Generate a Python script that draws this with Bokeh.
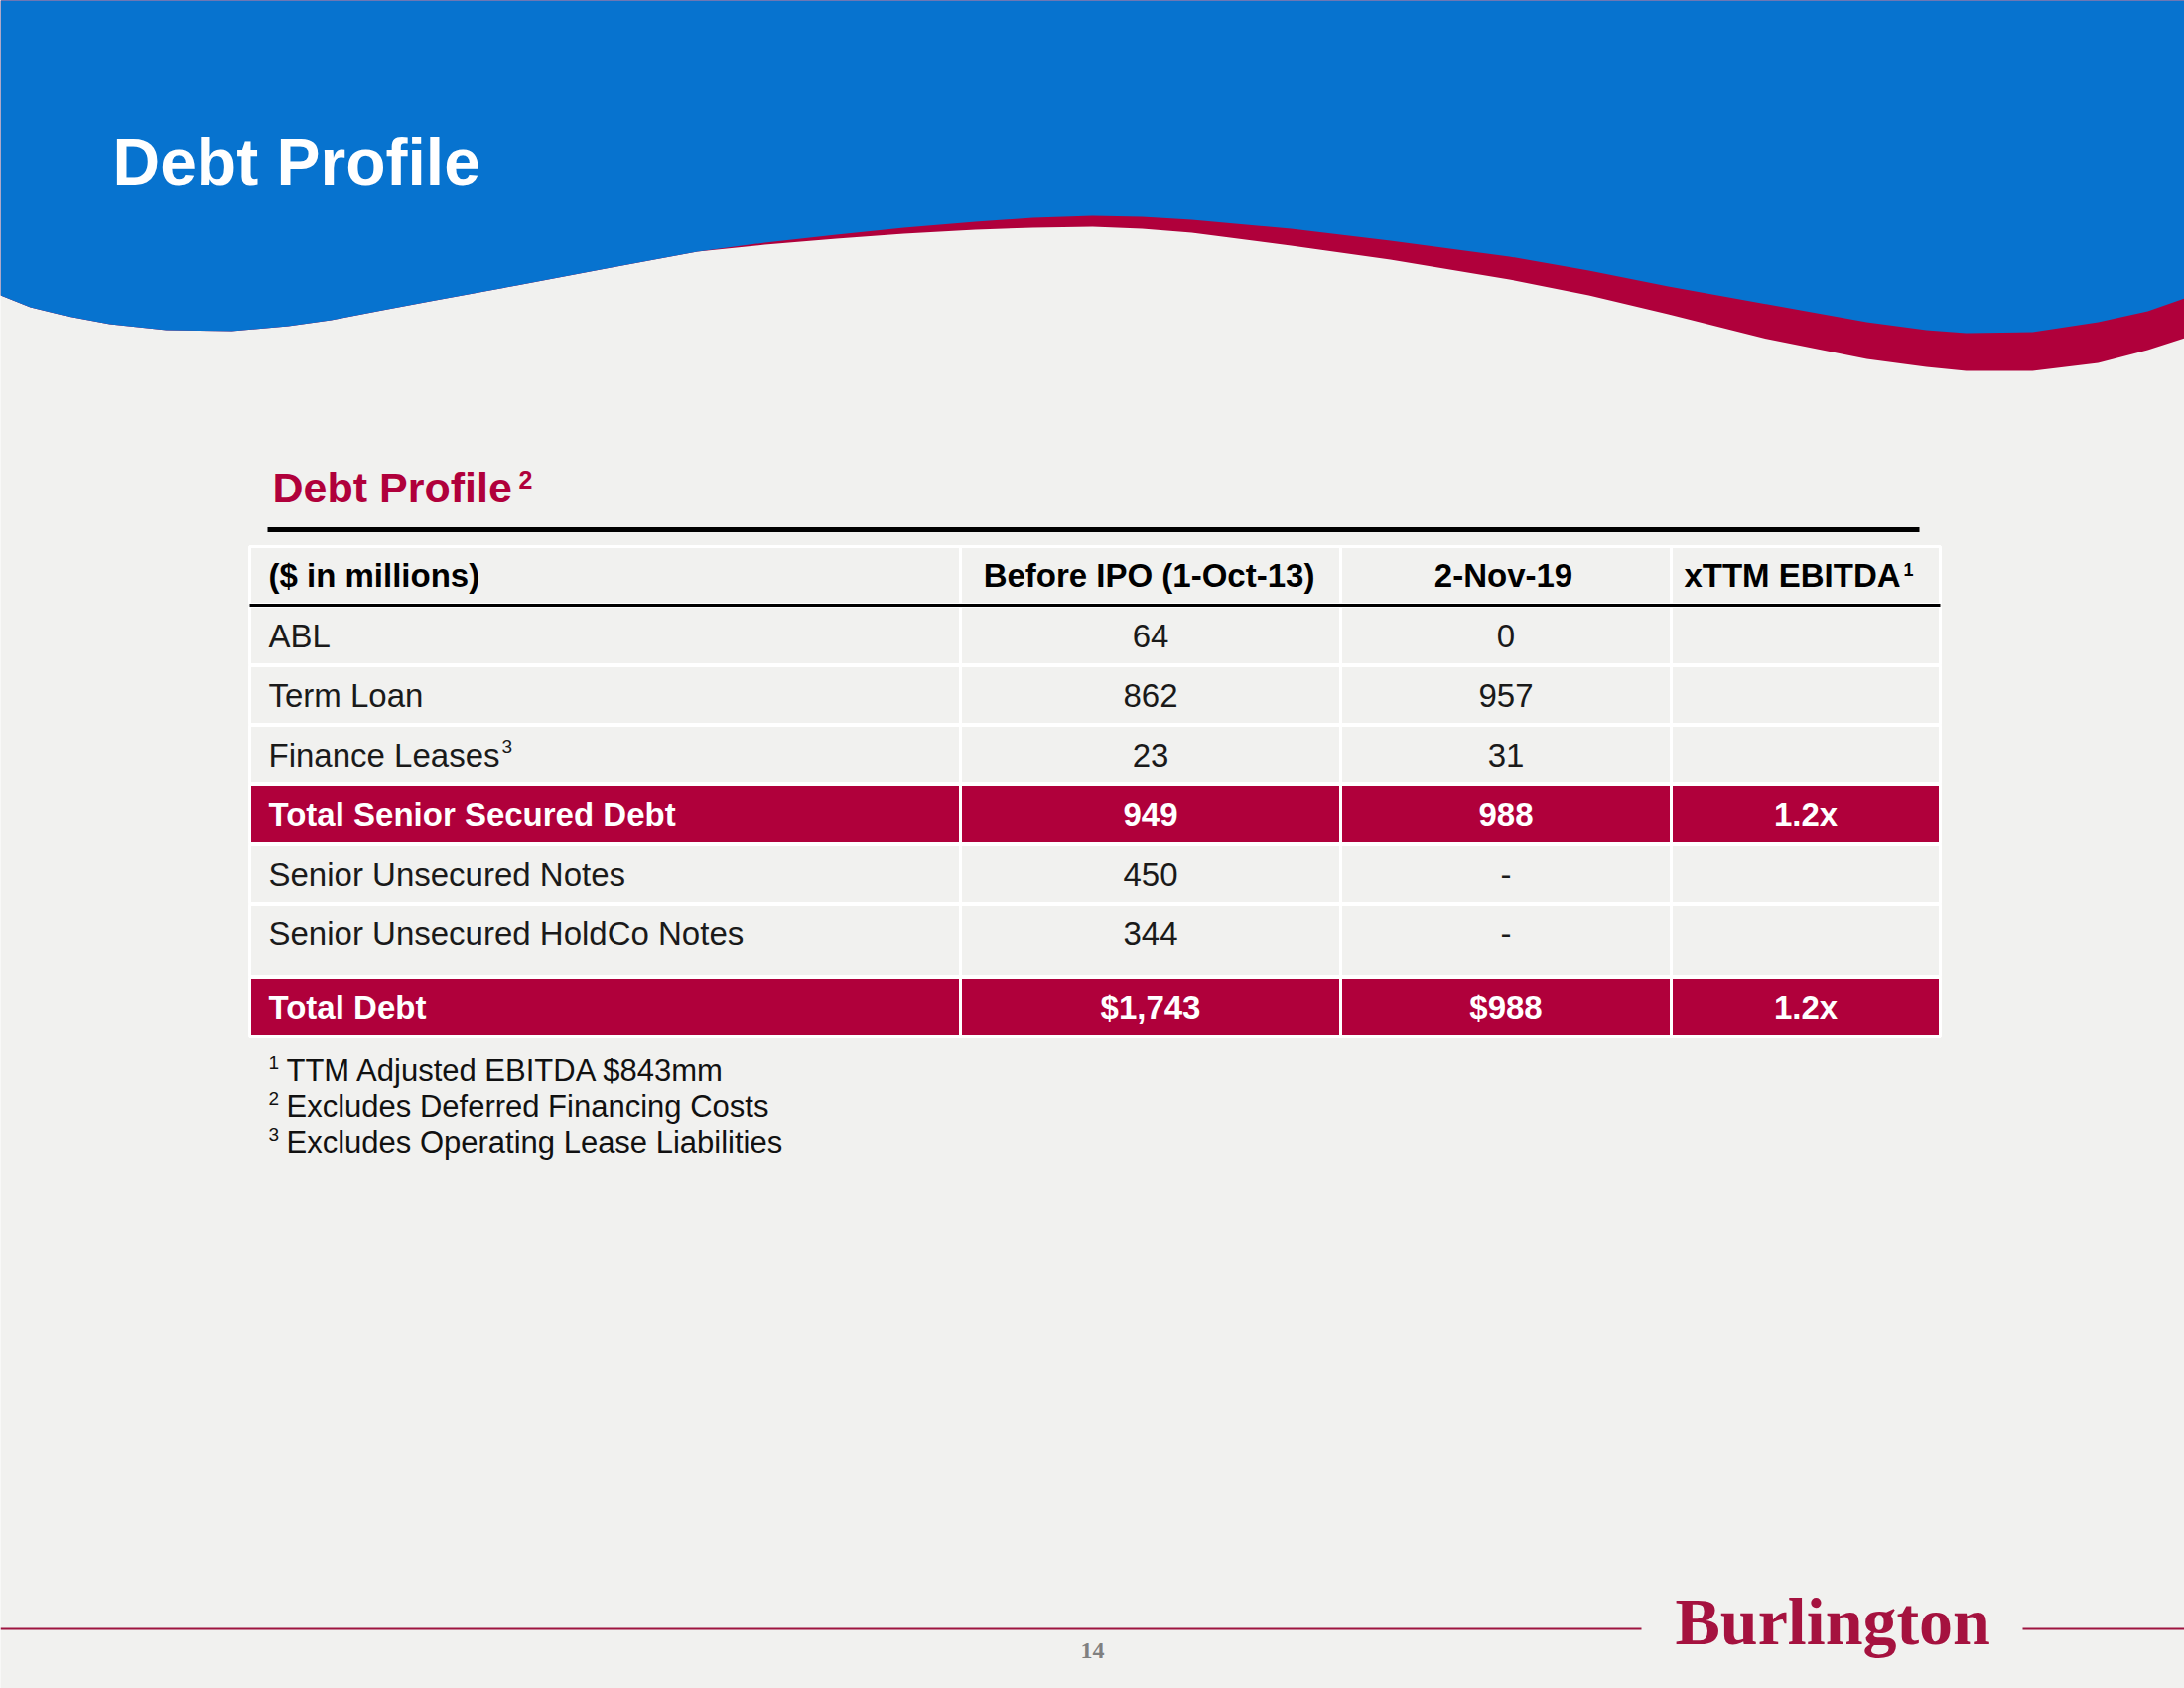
from bokeh.plotting import figure
from bokeh.models import ColumnDataSource, Range1d
from bokeh.core.properties import value
from bokeh.embed import file_html
from bokeh.resources import INLINE

# ---------------- data ----------------
TITLE = "Debt Profile"
SUBTITLE = "Debt Profile"
SUBTITLE_MARK = "2"
COLUMN_HEADERS = ["($ in millions)", "Before IPO (1-Oct-13)", "2-Nov-19", "xTTM EBITDA"]
HEADER_MARK = "1"
ROW_LABELS = ["ABL", "Term Loan", "Finance Leases", "Total Senior Secured Debt",
              "Senior Unsecured Notes", "Senior Unsecured HoldCo Notes", "Total Debt"]
ROW_MARKS = ["", "", "3", "", "", "", ""]
BEFORE_IPO = ["64", "862", "23", "949", "450", "344", "$1,743"]
NOV_2019 = ["0", "957", "31", "988", "-", "-", "$988"]
XTTM_EBITDA = ["", "", "", "1.2x", "", "", "1.2x"]
ROW_IS_TOTAL = [False, False, False, True, False, False, True]
FOOTNOTE_MARKS = ["1", "2", "3"]
FOOTNOTES = ["TTM Adjusted EBITDA $843mm", "Excludes Deferred Financing Costs",
             "Excludes Operating Lease Liabilities"]
PAGE_NUMBER = "14"
LOGO_TEXT = "Burlington"

# ---------------- layout / decoration ----------------
COL_EDGES = [251, 967, 1350, 1683, 1954]
HEADER_TOP, HEADER_BOTTOM = 550, 608
ROW_TOPS = [610, 670, 730, 790, 850, 910, 984]
ROW_BOTTOMS = [669, 729, 789, 849, 909, 983, 1043]

WAVE_X = [0, 30, 67, 110, 167, 233, 290, 333, 385, 433, 520, 610, 702, 770, 842, 910,
          982, 1040, 1100, 1150, 1200, 1300, 1400, 1520, 1600, 1680, 1780, 1880, 1940,
          1980, 2047, 2113, 2163, 2200]
BLUE_EDGE_Y = [297, 309, 318, 326, 332, 333, 328, 322, 312, 303, 287, 270, 253, 244,
               236, 229, 223, 219, 217, 218, 221, 230, 242, 258, 272, 288, 306, 324,
               332, 335, 334, 324, 313, 300]
RED_EDGE_Y = [297, 309, 318, 326, 332, 333, 328, 322, 312, 303, 287, 270, 253, 246,
              240, 235, 231, 229, 228, 230, 234, 247, 261, 281, 297, 316, 341, 361,
              369, 373, 373, 365, 352, 340]

BG = "#F1F1EF"
BLUE = "#0773CF"
CRIMSON = "#B0003B"
DARK = "#1A1A1A"
FONT = "Liberation Sans"
SERIF = "Liberation Serif"
BASELINE_SHIFT = 0.36  # empirical em offset of the svg text baseline

p = figure(width=2200, height=1700, x_range=Range1d(0, 2200), y_range=Range1d(1700, 0),
           output_backend="svg", toolbar_location=None, min_border=0)
p.xaxis.visible = False
p.yaxis.visible = False
p.grid.visible = False
p.outline_line_color = None
p.background_fill_color = BG
p.border_fill_color = BG

# header wave
p.patch([0] + WAVE_X + [2200], [-5] + RED_EDGE_Y + [-5], fill_color=CRIMSON, line_color=None)
p.patch([0] + WAVE_X + [2200], [-5] + BLUE_EDGE_Y + [-5], fill_color=BLUE, line_color=None)


def draw_text(xs, ys, texts, size, color, style="normal", align="left", font=FONT):
    ys = [y - BASELINE_SHIFT * size for y in ys]
    src = ColumnDataSource(dict(x=xs, y=ys, t=texts))
    p.text(x="x", y="y", text="t", source=src, text_font=value(font),
           text_font_size=value(f"{size}px"), text_color=color,
           text_font_style=value(style), text_align=value(align),
           text_baseline=value("alphabetic"))


# titles
draw_text([113], [186], [TITLE], 66, "white", "bold")
draw_text([274], [506], [SUBTITLE], 43, CRIMSON, "bold")
draw_text([522], [491], [SUBTITLE_MARK], 25, CRIMSON, "bold")
p.segment(x0=[269], y0=[533], x1=[1933], y1=[533], line_color="black", line_width=5)

# table cells
lefts, rights, tops, bottoms, fills = [], [], [], [], []
for c in range(4):
    lefts.append(COL_EDGES[c]); rights.append(COL_EDGES[c + 1])
    tops.append(HEADER_TOP); bottoms.append(HEADER_BOTTOM); fills.append(BG)
for r in range(len(ROW_LABELS)):
    for c in range(4):
        lefts.append(COL_EDGES[c]); rights.append(COL_EDGES[c + 1])
        tops.append(ROW_TOPS[r]); bottoms.append(ROW_BOTTOMS[r])
        fills.append(CRIMSON if ROW_IS_TOTAL[r] else BG)
p.quad(left=lefts, right=rights, top=tops, bottom=bottoms, fill_color=fills,
       line_color="white", line_width=3)
p.segment(x0=[COL_EDGES[0]], y0=[609], x1=[COL_EDGES[-1]], y1=[609],
          line_color="black", line_width=3)

# column headers
hb = HEADER_TOP + 29 + 12
draw_text([270], [hb], [COLUMN_HEADERS[0]], 33, "black", "bold")
draw_text([1157, 1514], [hb, hb], COLUMN_HEADERS[1:3], 33, "black", "bold", "center")
draw_text([1805], [hb], [COLUMN_HEADERS[3]], 33, "black", "bold", "center")
draw_text([1917], [hb - 12], [HEADER_MARK], 18, "black", "bold")

# rows
centers = [(COL_EDGES[1] + COL_EDGES[2]) / 2, (COL_EDGES[2] + COL_EDGES[3]) / 2,
           (COL_EDGES[3] + COL_EDGES[4]) / 2]
for total in (False, True):
    idx = [i for i in range(len(ROW_LABELS)) if ROW_IS_TOTAL[i] == total]
    color = "white" if total else DARK
    style = "bold" if total else "normal"
    base = [ROW_TOPS[i] + 30 + 12 for i in idx]
    draw_text([270] * len(idx), base, [ROW_LABELS[i] for i in idx], 33, color, style)
    for c, col in enumerate([BEFORE_IPO, NOV_2019, XTTM_EBITDA]):
        draw_text([centers[c]] * len(idx), base, [col[i] for i in idx], 33, color, style, "center")

mark_idx = [i for i in range(len(ROW_LABELS)) if ROW_MARKS[i]]
draw_text([505] * len(mark_idx), [ROW_TOPS[i] + 30 - 2 for i in mark_idx],
          [ROW_MARKS[i] for i in mark_idx], 19, DARK)

# footnotes
fb = [1089, 1125, 1161]
draw_text([270] * 3, [b - 12 for b in fb], FOOTNOTE_MARKS, 19, "#111111")
draw_text([288] * 3, fb, FOOTNOTES, 31, "#111111")

# footer
p.segment(x0=[0, 2037], y0=[1640, 1640], x1=[1653, 2200], y1=[1640, 1640],
          line_color="#9E1540", line_width=2)
draw_text([1100], [1671], [PAGE_NUMBER], 24, "#808080", "bold", "center", SERIF)
draw_text([1687], [1657], [LOGO_TEXT], 68, "#A5123F", "bold", "left", SERIF)

open("out.html", "w").write(file_html(p, INLINE))
